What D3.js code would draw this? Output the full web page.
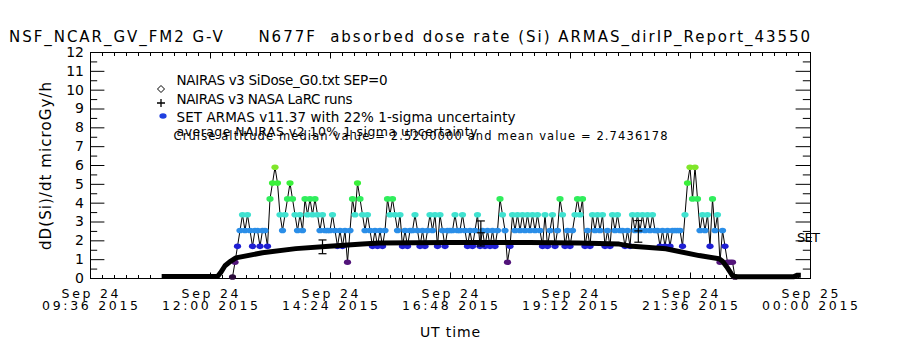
<!DOCTYPE html>
<html>
<head>
<meta charset="utf-8">
<script src="https://cdn.jsdelivr.net/npm/d3@7"></script>
<style>
  body { margin: 0; background: #fff; }
  svg text { font-family: "DejaVu Sans", sans-serif; fill: #000; white-space: pre; }
</style>
</head>
<body>
<svg id="chart" width="900" height="350"></svg>
<script>
////////////////////////////////////////////////////////////////////////
// Data (times are minutes after 00:00 UT, Sep 24 2015)

const yTicks = [0, 1, 2, 3, 4, 5, 6, 7, 8, 9, 10, 11, 12];
const tickMinutes = [576, 720, 864, 1008, 1152, 1296, 1440];
const tickDay = ["Sep 24", "Sep 24", "Sep 24", "Sep 24", "Sep 24", "Sep 24", "Sep 25"];
const tickClock = ["09:36 2015", "12:00 2015", "14:24 2015", "16:48 2015",
                   "19:12 2015", "21:36 2015", "00:00 2015"];

// NAIRAS v3 SiDose_G0 model along the flight track
const nairasMin  = [662, 729, 733, 738, 745, 751, 783, 823, 863, 903, 923,
                    1007, 1103, 1163, 1211, 1227, 1267, 1307, 1331, 1335,
                    1340, 1347, 1352, 1420, 1425, 1429];
const nairasDose = [0.08, 0.08, 0.3, 0.65, 0.9, 1.07, 1.34, 1.56, 1.68, 1.81, 1.86,
                    1.88, 1.88, 1.86, 1.8, 1.68, 1.55, 1.19, 1.02, 0.89,
                    0.6, 0.13, 0.06, 0.06, 0.15, 0.15];

// NAIRAS v3 NASA LaRC runs with their uncertainty bars
const larcMin  = [855, 1045, 1234];
const larcDose = [1.65, 2.4, 2.5];
const larcLow  = [1.29, 1.7, 1.9];
const larcHigh = [2.02, 3.03, 3.05];

// SET ARMAS record: one sample every 3 minutes, dose is quantised
const armasStart = 747;
const armasStep = 3;
const doseLevels  = [0.05, 0.84, 1.68, 2.52, 3.36, 4.20, 5.04, 5.88];
const levelColors = ["#2a0a3a", "#52147a", "#1f1fd4", "#2a8ee8",
                     "#40e2d0", "#30ee5c", "#3af03a", "#80e62a"];
const armasLevel = [
  0,1,2,3,4,3,4,3,2,3,  3,2,3,3,2,5,6,7,6,4,
  3,4,5,6,5,4,3,4,3,5,  4,5,4,5,4,3,4,3,3,3,
  4,3,2,3,2,3,1,3,5,4,  6,5,4,3,4,3,2,3,2,3,
  2,3,5,4,5,4,3,4,2,3,  2,3,3,4,3,2,3,2,3,4,
  3,4,2,4,3,2,3,3,3,4,  3,3,4,3,2,3,2,3,4,2,
  3,2,3,2,3,2,3,5,4,3,  1,2,4,3,4,3,4,3,4,3,
  4,3,4,3,2,4,2,3,4,2,  3,5,4,2,3,2,3,4,5,4,
  5,2,3,2,4,3,4,3,4,2,  3,2,4,3,4,3,3,2,3,2,
  4,3,4,3,4,3,4,3,4,3,  3,2,3,2,3,2,3,3,3,3,
  2,4,6,7,5,7,5,3,4,3,  4,2,5,3,4,1,3,2,1,1,
  1,0
];

////////////////////////////////////////////////////////////////////////
// Plot frame and scales

const svg = d3.select("#chart");
const pLeft = 90, pRight = 810, pTop = 52, pBottom = 278;

const x = d3.scaleLinear().domain([576, 1440]).range([pLeft, pRight]);
const y = d3.scaleLinear().domain([0, 12]).range([pBottom, pTop]);

// axes: ticks point inwards on all four sides, like the original
function clean(g) { g.select(".domain").remove(); }

svg.append("g")
  .attr("transform", `translate(${pLeft},0)`)
  .call(d3.axisLeft(y).tickValues(yTicks).tickSize(-14.4).tickPadding(6)
          .tickFormat(d3.format("d")))
  .call(clean)
  .attr("font-size", 14)
  .attr("font-family", "DejaVu Sans, sans-serif");

svg.append("g")
  .attr("transform", `translate(${pLeft},0)`)
  .call(d3.axisLeft(y).tickValues(d3.range(0.5, 12, 1)).tickSize(-7.2).tickFormat(""))
  .call(clean);

svg.append("g")
  .attr("transform", `translate(${pRight},0)`)
  .call(d3.axisRight(y).tickValues(yTicks).tickSize(-14.4).tickFormat(""))
  .call(clean);

svg.append("g")
  .attr("transform", `translate(${pRight},0)`)
  .call(d3.axisRight(y).tickValues(d3.range(0.5, 12, 1)).tickSize(-7.2).tickFormat(""))
  .call(clean);

svg.append("g")
  .attr("transform", `translate(0,${pBottom + 0.5})`)
  .call(d3.axisBottom(x).tickValues(tickMinutes).tickSize(-6).tickFormat(""))
  .call(clean);

svg.append("g")
  .attr("transform", `translate(0,${pBottom + 0.5})`)
  .call(d3.axisBottom(x).tickValues(d3.range(576, 1440, 14.4)).tickSize(-3.5).tickFormat(""))
  .call(clean);

svg.append("g")
  .attr("transform", `translate(0,${pTop + 0.5})`)
  .call(d3.axisTop(x).tickValues(tickMinutes).tickSize(-6).tickFormat(""))
  .call(clean);

svg.append("g")
  .attr("transform", `translate(0,${pTop + 0.5})`)
  .call(d3.axisTop(x).tickValues(d3.range(576, 1440, 14.4)).tickSize(-3.5).tickFormat(""))
  .call(clean);

svg.append("rect")
  .attr("x", pLeft + 0.5).attr("y", pTop + 0.5)
  .attr("width", pRight - pLeft).attr("height", pBottom - pTop)
  .attr("fill", "none").attr("stroke", "#000");

// two-line date labels under the time axis
let xl = svg.append("g").selectAll("g")
  .data(tickMinutes)
  .join("g")
  .attr("transform", d => `translate(${x(d)},0)`);

xl.append("text")
  .attr("y", 297.5).attr("text-anchor", "middle").attr("font-size", 12.5)
  .attr("textLength", 57).attr("lengthAdjust", "spacing")
  .text((d, i) => tickDay[i]);

xl.append("text")
  .attr("y", 309.5).attr("text-anchor", "middle").attr("font-size", 12.5)
  .attr("textLength", 96).attr("lengthAdjust", "spacing")
  .text((d, i) => tickClock[i]);

////////////////////////////////////////////////////////////////////////
// ARMAS series: thin black connecting line, then coloured dots

const armas = armasLevel.map((lv, i) => ({
  t: armasStart + i * armasStep,
  v: doseLevels[lv],
  lv: lv
}));

svg.append("path")
  .datum(armas)
  .attr("d", d3.line().x(d => x(d.t)).y(d => y(d.v)))
  .attr("fill", "none")
  .attr("stroke", "#000")
  .attr("stroke-width", 1);

svg.append("g")
  .selectAll("ellipse")
  .data(armas)
  .join("ellipse")
  .attr("cx", d => x(d.t))
  .attr("cy", d => y(d.v))
  .attr("rx", 3.6)
  .attr("ry", 2.8)
  .attr("fill", d => levelColors[d.lv]);

// NAIRAS v3 model, drawn as a heavy black line of diamonds
const nairas = nairasMin.map((t, i) => ({t: t, v: nairasDose[i]}));

svg.append("path")
  .datum(nairas)
  .attr("d", d3.line().x(d => x(d.t)).y(d => y(d.v)))
  .attr("fill", "none")
  .attr("stroke", "#000")
  .attr("stroke-width", 5)
  .attr("stroke-linejoin", "round");

// LaRC runs: plus sign with capped error bar
let larc = svg.append("g")
  .attr("stroke", "#000").attr("stroke-width", 1.2)
  .selectAll("g")
  .data(larcMin)
  .join("g");

larc.append("line")
  .attr("x1", d => x(d)).attr("x2", d => x(d))
  .attr("y1", (d, i) => y(larcLow[i])).attr("y2", (d, i) => y(larcHigh[i]));
larc.append("line")
  .attr("x1", d => x(d) - 4).attr("x2", d => x(d) + 4)
  .attr("y1", (d, i) => y(larcLow[i])).attr("y2", (d, i) => y(larcLow[i]));
larc.append("line")
  .attr("x1", d => x(d) - 4).attr("x2", d => x(d) + 4)
  .attr("y1", (d, i) => y(larcHigh[i])).attr("y2", (d, i) => y(larcHigh[i]));
larc.append("line")
  .attr("x1", d => x(d) - 4).attr("x2", d => x(d) + 4)
  .attr("y1", (d, i) => y(larcDose[i])).attr("y2", (d, i) => y(larcDose[i]));

svg.append("text")
  .attr("x", 797).attr("y", 242).attr("font-size", 13)
  .attr("textLength", 23).attr("lengthAdjust", "spacing")
  .text("SET");

////////////////////////////////////////////////////////////////////////
// Legend block

svg.append("path")
  .attr("d", "M161,85.5 L164.5,89 L161,92.5 L157.5,89 Z")
  .attr("fill", "none").attr("stroke", "#000");
svg.append("path")
  .attr("d", "M157,103 H165 M161,99 V107")
  .attr("stroke", "#000").attr("stroke-width", 1.3);
svg.append("ellipse")
  .attr("cx", 163).attr("cy", 116).attr("rx", 3.6).attr("ry", 2.7)
  .attr("fill", "#1f3fe0");

function legendText(txt, yy, size, len) {
  svg.append("text")
    .attr("x", 176.5).attr("y", yy).attr("font-size", size)
    .attr("textLength", len).attr("lengthAdjust", "spacing")
    .text(txt);
}
legendText("NAIRAS v3 SiDose_G0.txt SEP=0", 85, 13.5, 211);
legendText("NAIRAS v3 NASA LaRC runs", 104, 13.5, 176);
legendText("SET ARMAS v11.37 with 22% 1-sigma uncertainty", 122, 13.5, 339);
legendText("average NAIRAS v2 10% 1-sigma uncertainty", 136, 12.5, 301);
svg.append("text")
  .attr("x", 173.5).attr("y", 140).attr("font-size", 11.5)
  .attr("textLength", 494).attr("lengthAdjust", "spacing")
  .text("Cruise altitude median value = 2.5200000 and mean value = 2.7436178");

////////////////////////////////////////////////////////////////////////
// Titles

svg.append("text")
  .attr("x", 9).attr("y", 42).attr("font-size", 15)
  .attr("textLength", 801).attr("lengthAdjust", "spacing")
  .text("NSF_NCAR_GV_FM2 G-V     N677F  absorbed dose rate (Si) ARMAS_dirIP_Report_43550");

svg.append("text")
  .attr("transform", "translate(51,166) rotate(-90)")
  .attr("text-anchor", "middle").attr("font-size", 15)
  .attr("textLength", 168).attr("lengthAdjust", "spacing")
  .text("dD(Si)/dt microGy/h");

svg.append("text")
  .attr("x", 450).attr("y", 336.5).attr("text-anchor", "middle").attr("font-size", 14)
  .attr("textLength", 60).attr("lengthAdjust", "spacing")
  .text("UT time");
</script>
</body>
</html>
